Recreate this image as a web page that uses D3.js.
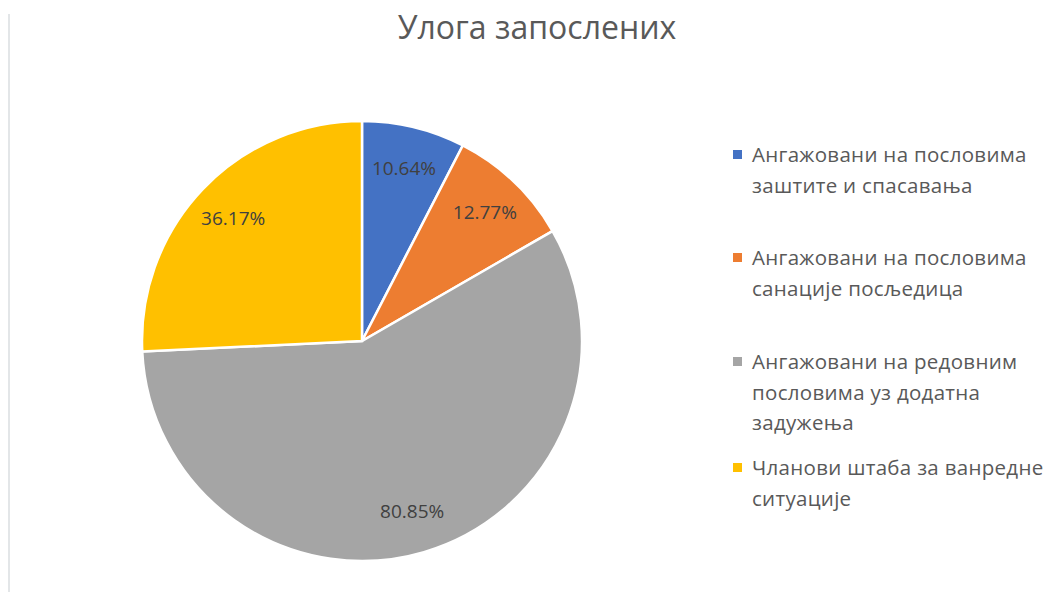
<!DOCTYPE html>
<html>
    <head>
        <meta charset="UTF-8">
        <script src="https://d3js.org/d3.v7.min.js"></script>
        <style>
            body { margin: 0; background: #fff; }
            text { font-family: "Open Sans", sans-serif; }
        </style>
    </head>

    <body>

        <svg id="canvas"></svg>

        <script>

            width = 1057;
            height = 592;

            // chart data
            title = "Улога запослених";
            labels = [
                ["Ангажовани на пословима", "заштите и спасавања"],
                ["Ангажовани на пословима", "санације посљедица"],
                ["Ангажовани на редовним", "пословима уз додатна", "задужења"],
                ["Чланови штаба за ванредне", "ситуације"]
            ];
            values = [10.64, 12.77, 80.85, 36.17];
            colors = ["#4472C4", "#ED7D31", "#A5A5A5", "#FFC000"];

            cx = 362;
            cy = 341;
            radius = 220;

            canvas = d3.select("#canvas")
                .attr("width", width)
                .attr("height", height);

            // faint frame line on the left
            canvas.append("line")
                .attr("x1", 9).attr("x2", 9)
                .attr("y1", 14).attr("y2", height)
                .attr("stroke", "#e3e6e8").attr("stroke-width", 2);

            canvas.append("text")
                .attr("x", 537).attr("y", 39)
                .attr("text-anchor", "middle")
                .attr("font-size", 32)
                .attr("fill", "#595959")
                .text(title);

            pie = d3.pie().sort(null).value((d) => d);
            arc = d3.arc().innerRadius(0).outerRadius(radius);
            labelArc = d3.arc().innerRadius(178).outerRadius(178);

            g = canvas.append("g")
                .attr("transform", "translate(" + cx + "," + cy + ")");

            slices = pie(values);

            g.selectAll("path")
                .data(slices)
                .enter().append("path")
                    .attr("d", arc)
                    .attr("fill", (d, i) => colors[i])
                    .attr("stroke", "#fff")
                    .attr("stroke-width", 2.5);

            g.selectAll("text.lbl")
                .data(slices)
                .enter().append("text")
                    .attr("class", "lbl")
                    .attr("transform", (d) => "translate(" + labelArc.centroid(d) + ")")
                    .attr("text-anchor", "middle")
                    .attr("dy", "0.35em")
                    .attr("font-size", 19)
                    .attr("fill", "#404040")
                    .text((d) => d.data.toFixed(2) + "%");

            // legend
            lineH = 30.5;
            legendY = [155, 258, 362, 468];
            legend = canvas.append("g");
            labels.forEach(function(lines, i) {
                legend.append("rect")
                    .attr("x", 733).attr("y", legendY[i] - 5)
                    .attr("width", 9).attr("height", 9)
                    .attr("fill", colors[i]);
                t = legend.append("text")
                    .attr("x", 752).attr("y", legendY[i])
                    .attr("font-size", 20.5)
                    .attr("letter-spacing", 0.3)
                    .attr("fill", "#595959");
                lines.forEach(function(s, j) {
                    t.append("tspan")
                        .attr("x", 752)
                        .attr("dy", j == 0 ? "0.35em" : lineH)
                        .text(s);
                });
            });

        </script>

    </body>

</html>
